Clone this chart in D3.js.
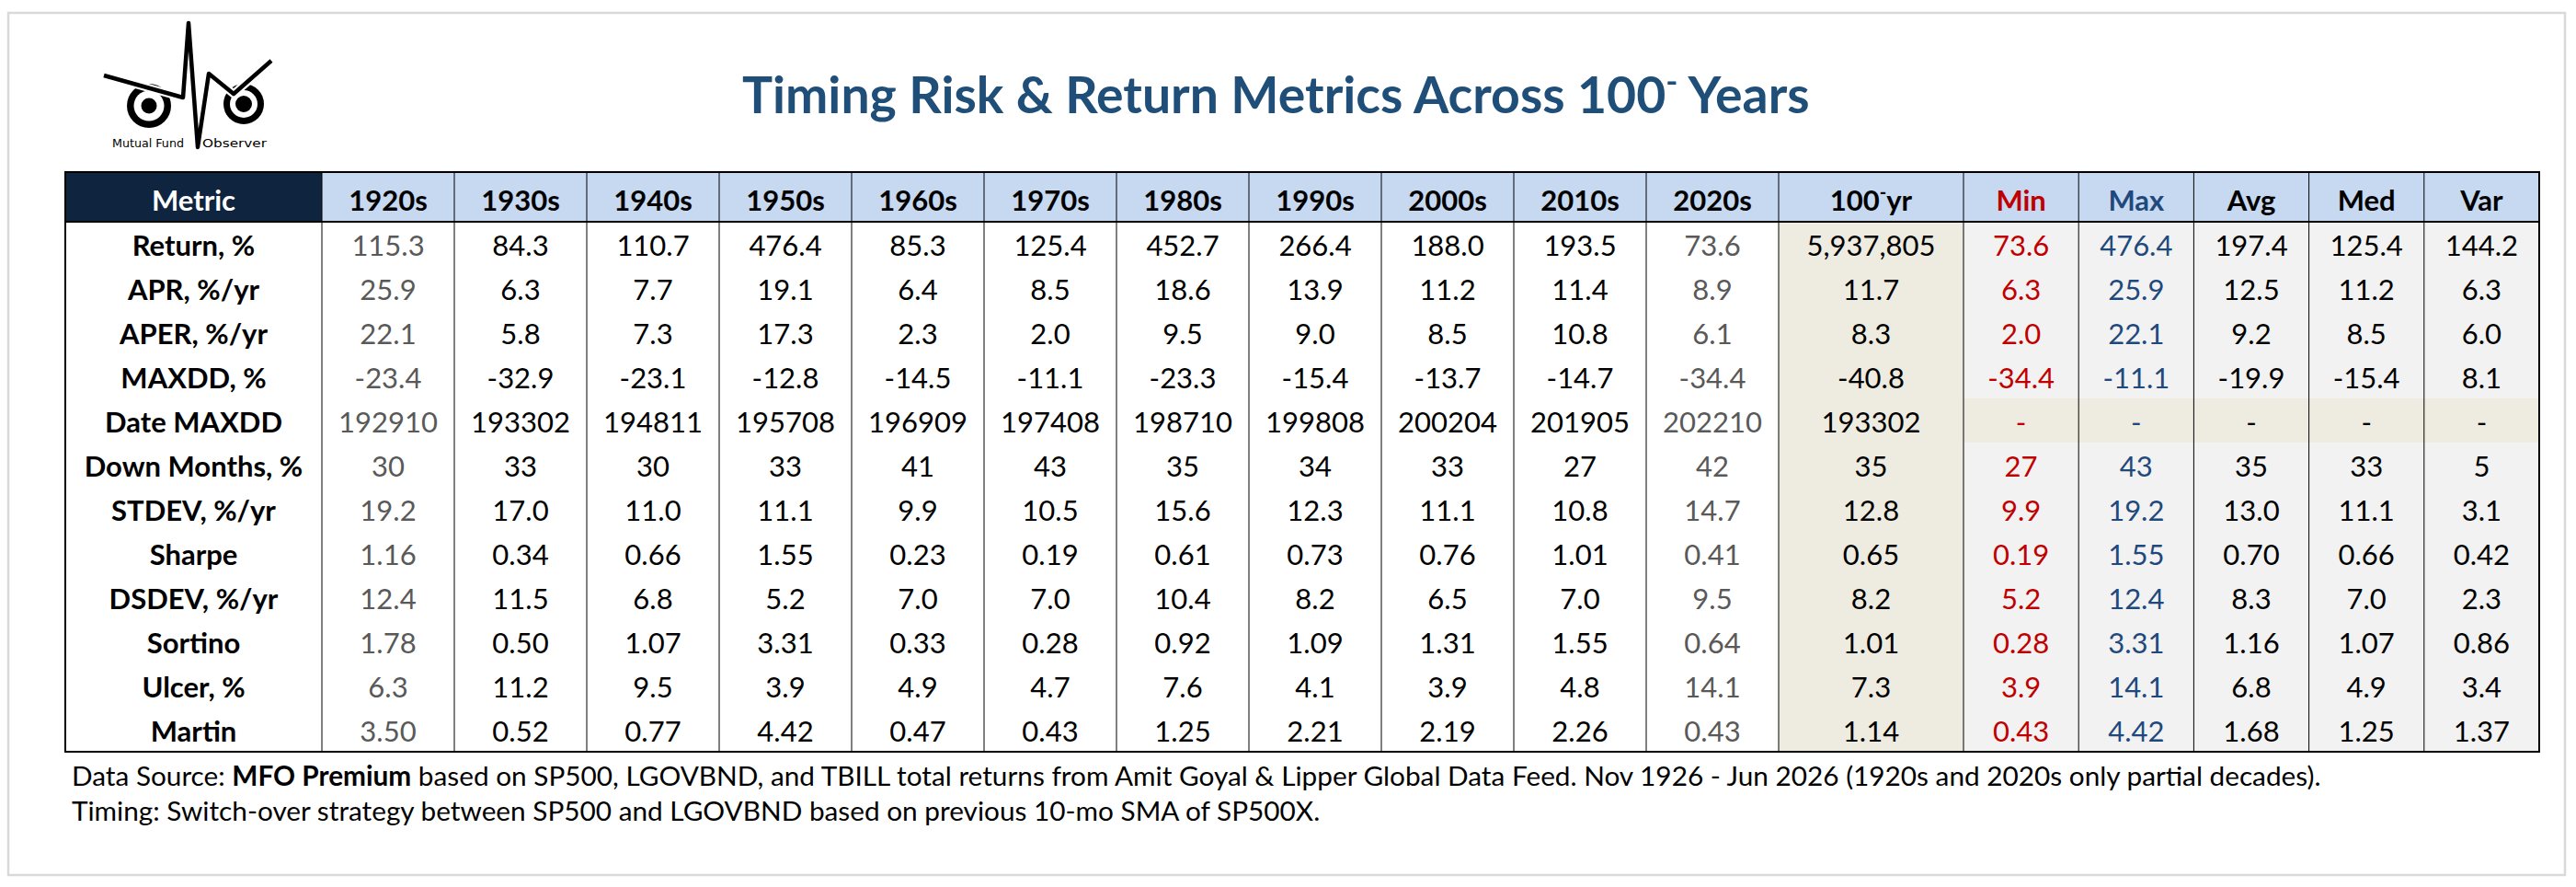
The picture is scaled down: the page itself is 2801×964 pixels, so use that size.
<!DOCTYPE html>
<html><head><meta charset="utf-8">
<script src="https://cdn.jsdelivr.net/npm/d3@7"></script>
<style>html,body{margin:0;padding:0;background:#fff;} svg{display:block;}</style>
</head><body><svg id="chart" width="2801" height="964"></svg>
<script>
// ---------------- DATA ----------------
const metrics = ["Return, %","APR, %/yr","APER, %/yr","MAXDD, %","Date MAXDD","Down Months, %",
  "STDEV, %/yr","Sharpe","DSDEV, %/yr","Sortino","Ulcer, %","Martin"];
const decades = ["1920s","1930s","1940s","1950s","1960s","1970s","1980s","1990s","2000s","2010s","2020s"];
const partialDecades = ["1920s","2020s"];
const statCols = ["Min","Max","Avg","Med","Var"];
const rowFormats = [".1f",".1f",".1f",".1f","d","d",".1f",".2f",".1f",".2f",".1f",".2f"];
// rows = metrics, columns = decades
const decadeValues = [
  [115.3, 84.3, 110.7, 476.4, 85.3, 125.4, 452.7, 266.4, 188.0, 193.5, 73.6],
  [25.9, 6.3, 7.7, 19.1, 6.4, 8.5, 18.6, 13.9, 11.2, 11.4, 8.9],
  [22.1, 5.8, 7.3, 17.3, 2.3, 2.0, 9.5, 9.0, 8.5, 10.8, 6.1],
  [-23.4, -32.9, -23.1, -12.8, -14.5, -11.1, -23.3, -15.4, -13.7, -14.7, -34.4],
  [192910, 193302, 194811, 195708, 196909, 197408, 198710, 199808, 200204, 201905, 202210],
  [30, 33, 30, 33, 41, 43, 35, 34, 33, 27, 42],
  [19.2, 17.0, 11.0, 11.1, 9.9, 10.5, 15.6, 12.3, 11.1, 10.8, 14.7],
  [1.16, 0.34, 0.66, 1.55, 0.23, 0.19, 0.61, 0.73, 0.76, 1.01, 0.41],
  [12.4, 11.5, 6.8, 5.2, 7.0, 7.0, 10.4, 8.2, 6.5, 7.0, 9.5],
  [1.78, 0.50, 1.07, 3.31, 0.33, 0.28, 0.92, 1.09, 1.31, 1.55, 0.64],
  [6.3, 11.2, 9.5, 3.9, 4.9, 4.7, 7.6, 4.1, 3.9, 4.8, 14.1],
  [3.50, 0.52, 0.77, 4.42, 0.47, 0.43, 1.25, 2.21, 2.19, 2.26, 0.43]
];
const centuryValues = [5937805, 11.7, 8.3, -40.8, 193302, 35, 12.8, 0.65, 8.2, 1.01, 7.3, 1.14];
const minValues = [73.6, 6.3, 2.0, -34.4, null, 27, 9.9, 0.19, 5.2, 0.28, 3.9, 0.43];
const maxValues = [476.4, 25.9, 22.1, -11.1, null, 43, 19.2, 1.55, 12.4, 3.31, 14.1, 4.42];
const avgValues = [197.4, 12.5, 9.2, -19.9, null, 35, 13.0, 0.70, 8.3, 1.16, 6.8, 1.68];
const medValues = [125.4, 11.2, 8.5, -15.4, null, 33, 11.1, 0.66, 7.0, 1.07, 4.9, 1.25];
const varValues = [144.2, 6.3, 6.0, 8.1, null, 5, 3.1, 0.42, 2.3, 0.86, 3.4, 1.37];
const titleMain = "Timing Risk & Return Metrics Across 100";
const titleSup = "-";
const titleEnd = " Years";
const footLine1 = [["Data Source: ", false], ["MFO Premium", true],
  [" based on SP500, LGOVBND, and TBILL total returns from Amit Goyal & Lipper Global Data Feed. Nov 1926 - Jun 2026 (1920s and 2020s only partial decades).", false]];
const footLine2 = "Timing: Switch-over strategy between SP500 and LGOVBND based on previous 10-mo SMA of SP500X.";

// ---------------- LAYOUT ----------------
const FONT = "Lato, 'Open Sans', sans-serif";
const svg = d3.select("#chart");
const loc = d3.formatLocale({decimal: ".", thousands: ",", grouping: [3], currency: ["$", ""], minus: "-"});

svg.append("rect").attr("x", 0).attr("y", 0).attr("width", 2801).attr("height", 964).attr("fill", "#fff");
svg.append("rect").attr("x", 9).attr("y", 14).attr("width", 2780).attr("height", 937)
  .attr("fill", "#fff").attr("stroke", "#d9d9d9").attr("stroke-width", 2.5);

const statTable = {Min: minValues, Max: maxValues, Avg: avgValues, Med: medValues, Var: varValues};
const colKeys = ["Metric", ...decades, "100yr", ...statCols];
const widthOf = k => k === "Metric" ? 279 : decades.includes(k) ? 144 : k === "100yr" ? 201 : 125.2;
const tableLeft = 71, headTop = 187, headBottom = 241, tableBottom = 817;
const lefts = [];
colKeys.reduce((acc, k) => { lefts.push(acc); return acc + widthOf(k); }, tableLeft);
const xCol = d3.scaleOrdinal().domain(colKeys).range(lefts);
const tableRight = xCol("Var") + widthOf("Var");
const yRow = d3.scaleBand().domain(metrics).range([headBottom, tableBottom]);
const cx = k => xCol(k) + widthOf(k) / 2;

// header fills
svg.append("rect").attr("x", tableLeft).attr("y", headTop).attr("width", widthOf("Metric"))
  .attr("height", headBottom - headTop).attr("fill", "#0f243e");
svg.append("rect").attr("x", xCol("1920s")).attr("y", headTop).attr("width", tableRight - xCol("1920s"))
  .attr("height", headBottom - headTop).attr("fill", "#c6d9f1");
// body fills
svg.append("rect").attr("x", xCol("100yr")).attr("y", headBottom).attr("width", widthOf("100yr"))
  .attr("height", tableBottom - headBottom).attr("fill", "#eeece1");
svg.append("rect").attr("x", xCol("Min")).attr("y", headBottom).attr("width", tableRight - xCol("Min"))
  .attr("height", tableBottom - headBottom).attr("fill", "#f2f2f2");
svg.append("rect").attr("x", xCol("Min")).attr("y", yRow("Date MAXDD")).attr("width", tableRight - xCol("Min"))
  .attr("height", yRow.bandwidth()).attr("fill", "#eeece1");

// header text
const headColor = k => k === "Metric" ? "#ffffff" : k === "Min" ? "#c00000" : k === "Max" ? "#1f497d" : "#000";
const hdr = svg.append("g").attr("font-family", FONT).attr("font-weight", 700).attr("font-size", 31)
  .attr("text-anchor", "middle");
colKeys.forEach(k => {
  const t = hdr.append("text").attr("x", cx(k)).attr("y", 229).attr("fill", headColor(k));
  if (k === "100yr") {
    t.append("tspan").text("100");
    t.append("tspan").attr("dy", -13).attr("font-size", 20).text("-");
    t.append("tspan").attr("dy", 13).text("yr");
  } else t.text(k);
});

// body text
const body = svg.append("g").attr("font-family", FONT).attr("font-size", 31).attr("text-anchor", "middle");
metrics.forEach((m, i) => {
  const by = yRow(m) + 37;
  body.append("text").attr("x", cx("Metric")).attr("y", by).attr("font-weight", 700).attr("fill", "#000").text(m);
  const f = loc.format(rowFormats[i]);
  decades.forEach((d, j) => {
    body.append("text").attr("x", cx(d)).attr("y", by)
      .attr("fill", partialDecades.includes(d) ? "#595959" : "#000")
      .text(f(decadeValues[i][j]));
  });
  const cv = centuryValues[i];
  body.append("text").attr("x", cx("100yr")).attr("y", by).attr("fill", "#000")
    .text(cv >= 1e6 ? loc.format(",.0f")(cv) : f(cv));
  statCols.forEach(s => {
    const v = statTable[s][i];
    body.append("text").attr("x", cx(s)).attr("y", by)
      .attr("fill", s === "Min" ? "#c00000" : s === "Max" ? "#1f497d" : "#000")
      .text(v === null ? "-" : f(v));
  });
});

// grid lines
const lines = svg.append("g").attr("stroke", "#000").attr("fill", "none");
colKeys.slice(1).forEach(k => {
  lines.append("line").attr("x1", xCol(k)).attr("x2", xCol(k)).attr("y1", headTop).attr("y2", tableBottom)
    .attr("stroke-width", 1);
});
lines.append("line").attr("x1", tableLeft).attr("x2", tableRight).attr("y1", headBottom).attr("y2", headBottom)
  .attr("stroke-width", 2);
lines.append("rect").attr("x", tableLeft).attr("y", headTop).attr("width", tableRight - tableLeft)
  .attr("height", tableBottom - headTop).attr("stroke-width", 2);

// title
const title = svg.append("text").attr("x", 807).attr("y", 123).attr("font-family", FONT)
  .attr("font-weight", 700).attr("font-size", 54).attr("fill", "#1f4e79");
title.append("tspan").text(titleMain);
title.append("tspan").attr("dy", -22).attr("font-size", 34).text(titleSup);
title.append("tspan").attr("dy", 22).text(titleEnd);
(function fit(sel, target) {
  const w = sel.node().getComputedTextLength();
  const s = 54 * target / w;
  sel.attr("font-size", s);
  sel.selectAll("tspan").filter((d, i) => i === 1).attr("font-size", s * 0.63).attr("dy", -s * 0.4);
  sel.selectAll("tspan").filter((d, i) => i === 2).attr("dy", s * 0.4);
})(title, 1161);

// footnote
const f1 = svg.append("text").attr("x", 78).attr("y", 854).attr("font-family", FONT).attr("font-size", 30).attr("fill", "#000");
footLine1.forEach(([t, b]) => f1.append("tspan").attr("font-weight", b ? 700 : 400).text(t));
const fs = 30 * 2447 / f1.node().getComputedTextLength();
f1.attr("font-size", fs);
svg.append("text").attr("x", 78).attr("y", 892).attr("font-family", FONT).attr("font-size", fs)
  .attr("fill", "#000").text(footLine2);

// logo
const logo = svg.append("g");
logo.append("circle").attr("cx", 162).attr("cy", 115).attr("r", 24).attr("fill", "#000");
logo.append("circle").attr("cx", 162).attr("cy", 115).attr("r", 16.5).attr("fill", "#fff");
logo.append("circle").attr("cx", 162).attr("cy", 115).attr("r", 8.5).attr("fill", "#000");
logo.append("circle").attr("cx", 265).attr("cy", 113).attr("r", 22).attr("fill", "#000");
logo.append("circle").attr("cx", 265).attr("cy", 113).attr("r", 15).attr("fill", "#fff");
logo.append("circle").attr("cx", 265).attr("cy", 113).attr("r", 9).attr("fill", "#000");
logo.append("path")
  .attr("d", d3.line()([[113, 82], [199, 106], [205, 25], [215, 160], [227, 80], [254, 102], [295, 66]]))
  .attr("fill", "none").attr("stroke", "#fff").attr("stroke-width", 9).attr("stroke-linejoin", "round");
logo.append("path")
  .attr("d", d3.line()([[113, 82], [199, 106], [205, 25], [215, 160], [227, 80], [254, 102], [295, 66]]))
  .attr("fill", "none").attr("stroke", "#000").attr("stroke-width", 4.5).attr("stroke-linejoin", "round");
logo.append("text").attr("x", 122).attr("y", 160).attr("font-family", "'DejaVu Sans Condensed', sans-serif")
  .attr("font-size", 13).attr("textLength", 78).attr("lengthAdjust", "spacingAndGlyphs").text("Mutual Fund");
logo.append("text").attr("x", 220).attr("y", 160).attr("font-family", "'DejaVu Sans Condensed', sans-serif")
  .attr("font-size", 13).attr("textLength", 70).attr("lengthAdjust", "spacingAndGlyphs").text("Observer");
</script>
</body></html>
